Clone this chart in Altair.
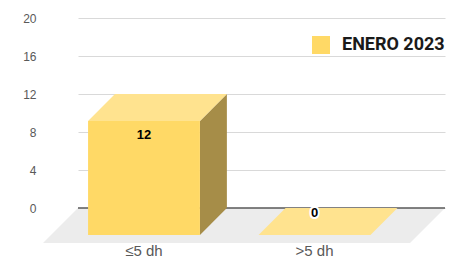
import altair as alt
import pandas as pd

# ---- data ----
categories = ["≤5 dh", ">5 dh"]
values = [12, 0]
series_name = "ENERO 2023"
y_ticks = [0, 4, 8, 12, 16, 20]

# ---- 3D look (style constants, data units) ----
X_MIN, X_MAX = -0.545, 1.607
HALF_W = 0.328
DX, DY = 0.158, 2.84      # bar depth
FDX, FDY = 0.205, 3.68    # floor depth

FRONT = "#FFD966"
TOP = "#FFE38F"
SIDE = "#A68D48"
FLOOR = "#ECECEC"
GRID = "#D9D9D9"
AXIS_DARK = "#595959"
TXT = "#595959"
FONT = "Liberation Sans"

bar_rows, top_rows, side_rows = [], [], []
for i, (c, v) in enumerate(zip(categories, values)):
    x0, x1 = i - HALF_W, i + HALF_W
    bar_rows.append(dict(cat=c, value=v, series=series_name,
                         fx0=x0 - DX, fx1=x1 - DX, fy0=-DY, fy1=v - DY,
                         lx=i - DX, ly=(v - DY - 1.5) if v > 0 else -0.55,
                         base=0))
    top_rows.append(dict(cat=c, y=v - DY, xa=x0 - DX, xb=x1 - DX))
    top_rows.append(dict(cat=c, y=v, xa=x0, xb=x1))
    side_rows.append(dict(cat=c, x=x1 - DX, ya=-DY, yb=v - DY))
    side_rows.append(dict(cat=c, x=x1, ya=0, yb=v))
bars = pd.DataFrame(bar_rows)
tops = pd.DataFrame(top_rows)
sides = pd.DataFrame(side_rows)
floor = pd.DataFrame([dict(y=-FDY, xa=X_MIN - FDX, xb=X_MAX - FDX),
                      dict(y=0, xa=X_MIN, xb=X_MAX)])

xs = alt.Scale(domain=[X_MIN, X_MAX], nice=False, zero=False)
ys = alt.Scale(domain=[0, 20], nice=False, zero=False)
Y_AX = alt.Axis(values=y_ticks, title=None, grid=True, gridColor=GRID,
                domain=False, ticks=False, labelPadding=42, labelColor=TXT,
                labelFontSize=12, labelFont=FONT)

floor_l = alt.Chart(floor).mark_area(orient="horizontal", color=FLOOR).encode(
    y=alt.Y("y:Q", scale=ys, axis=Y_AX),
    x=alt.X("xa:Q", scale=xs, axis=None),
    x2="xb:Q",
)

zero_l = alt.Chart(bars).mark_rule(color=AXIS_DARK, strokeWidth=1).encode(
    y=alt.Y("base:Q", scale=ys, axis=Y_AX),
)

side_l = alt.Chart(sides).mark_area(orient="vertical", color=SIDE).encode(
    x=alt.X("x:Q", scale=xs, axis=None),
    y=alt.Y("ya:Q", scale=ys, axis=Y_AX),
    y2="yb:Q",
    detail="cat:N",
)

top_l = alt.Chart(tops).mark_area(orient="horizontal", color=TOP).encode(
    y=alt.Y("y:Q", scale=ys, axis=Y_AX),
    x=alt.X("xa:Q", scale=xs, axis=None),
    x2="xb:Q",
    detail="cat:N",
)

front_l = alt.Chart(bars).mark_rect().encode(
    x=alt.X("fx0:Q", scale=xs, axis=None),
    x2="fx1:Q",
    y=alt.Y("fy0:Q", scale=ys, axis=Y_AX),
    y2="fy1:Q",
    color=alt.Color("series:N",
                    scale=alt.Scale(domain=[series_name], range=[FRONT]),
                    legend=alt.Legend(orient="none", legendX=234, legendY=18,
                                      title=None, symbolType="square",
                                      symbolSize=324, symbolStrokeWidth=0,
                                      labelFontSize=18, labelFontWeight="bold",
                                      labelFont="Roboto", labelColor="#1a1a1a",
                                      labelOffset=12, padding=0)),
)

halo_l = alt.Chart(bars).transform_filter("datum.value == 0").mark_text(
    fontSize=13, fontWeight="bold", font=FONT, stroke="white", strokeWidth=4,
    color="white", baseline="middle", align="center").encode(
    x=alt.X("lx:Q", scale=xs, axis=None),
    y=alt.Y("ly:Q", scale=ys, axis=Y_AX),
    text="value:Q",
)

label_l = alt.Chart(bars).mark_text(
    fontSize=13, fontWeight="bold", font=FONT, color="#000000",
    baseline="middle", align="center").encode(
    x=alt.X("lx:Q", scale=xs, axis=None),
    y=alt.Y("ly:Q", scale=ys, axis=Y_AX),
    text="value:Q",
)

xlab_l = alt.Chart(bars).mark_text(
    fontSize=15, font=FONT, color=TXT, baseline="alphabetic", align="center",
    dy=48).encode(
    x=alt.X("lx:Q", scale=xs, axis=None),
    y=alt.Y("base:Q", scale=ys, axis=Y_AX),
    text="cat:N",
)

chart = alt.layer(floor_l, zero_l, side_l, top_l, front_l, halo_l, label_l,
                  xlab_l).properties(
    width=367, height=190,
    autosize=alt.AutoSizeParams(type="none"),
    padding={"left": 70, "top": 10, "right": 1, "bottom": 53},
    background="white",
).configure_view(strokeWidth=0)

chart.save("out.html", embed_options={"renderer": "svg", "actions": False})
